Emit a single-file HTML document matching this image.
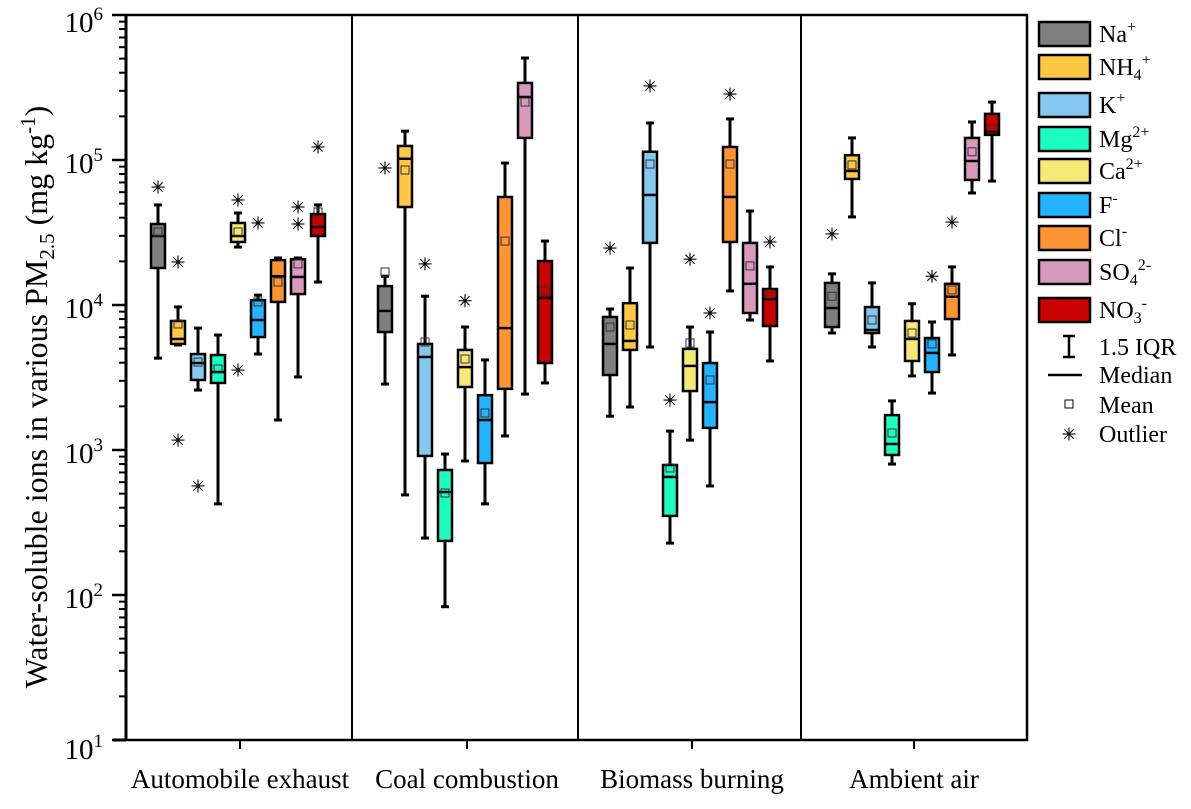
<!DOCTYPE html>
<html><head><meta charset="utf-8">
<style>
body{margin:0;background:#fff;}
svg{display:block;font-family:"Liberation Serif",serif;}
</style></head>
<body>
<svg id="chart" width="1191" height="809" viewBox="0 0 1191 809" xmlns="http://www.w3.org/2000/svg"></svg>
<script>
const groups = ["Automobile exhaust","Coal combustion","Biomass burning","Ambient air"];
const ions = ["Na","NH4","K","Mg","Ca","F","Cl","SO4","NO3"];
const colors = ["#7f7f7f","#ffc843","#84c8f0","#1affc0","#f5ea76","#22b4ff","#ff9433","#d899bd","#c80000"];
// each box: [whiskerLow, q1, median, q3, whiskerHigh, mean]
const autoBoxes = [
 [4300,18000,29900,36200,49000,31900],
 [5300,5390,5830,7760,9700,7400],
 [2590,3040,3980,4590,6930,4040],
 [425,2900,3450,4520,6210,3620],
 [25100,27200,29900,36800,43100,31900],
 [4590,6010,7880,10800,11700,10500],
 [1610,10500,15800,20400,21100,14400],
 [3190,11900,15600,20700,21100,19200],
 [14400,29900,34500,42400,49000,43800]
];
const coalBoxes = [
 [2850,6510,9100,13500,15800,16900],
 [490,47400,102000,125000,158000,85300],
 [247,910,4380,5390,11500,5560],
 [83,236,513,728,938,505],
 [840,2720,3730,4900,7050,4240],
 [425,813,1610,2390,4180,1800],
 [1250,2640,6930,55600,95300,27600],
 [2430,142000,272000,340000,505000,251000],
 [2900,3980,11200,20100,27600,12500]
];
const biomassBoxes = [
 [1710,3290,5390,8270,9380,7050],
 [1980,4900,5650,10300,18000,7280],
 [5130,26800,57400,114000,180000,93800],
 [228,351,652,788,1350,752],
 [1170,2550,3800,4980,7050,5470],
 [565,1420,2140,3980,6510,3040],
 [12500,27200,55600,123000,192000,93800],
 [7880,8810,14000,26800,44500,18600],
 [4110,7160,11000,12900,18300,11900]
];
const ambientBoxes = [
 [6410,7050,9530,14200,16400,11500],
 [40500,74000,84000,108000,142000,92500],
 [5130,6410,6730,9680,14200,7880],
 [800,924,1100,1740,2180,1310],
 [3240,4110,5830,7760,10200,6410],
 [2470,3450,4670,5920,7640,5390],
 [4520,8000,11400,14000,18300,12700],
 [59200,72800,98400,142000,183000,114000],
 [71600,149000,156000,208000,251000,164000]
];
// outliers: [groupIndex, ionIndex, value]
const outliers = [
 [0,0,65100],[0,1,19800],[0,1,1170],[0,2,565],[0,4,53000],[0,4,3560],[0,5,36800],[0,7,47400],[0,7,36200],[0,8,123000],
 [1,0,88100],[1,2,19200],[1,4,10700],
 [2,0,24700],[2,2,324000],[2,3,2210],[2,4,20700],[2,5,8810],[2,6,285000],[2,8,27200],
 [3,0,30900],[3,5,15800],[3,6,37300]
];
const yTickExps = [1,2,3,4,5,6];

const svg = document.getElementById('chart');
const NS = "http://www.w3.org/2000/svg";
const L=126, R=1027, T=15, B=740;
const groupCenters=[238,465,690,912];
function y(v){ return B - (Math.log10(v)-1)*(B-T)/5; }
function xBox(g,i){ return groupCenters[g] + (i-4)*20; }
function mk(tag, attrs, parent){
  const e=document.createElementNS(NS,tag);
  for(const k in attrs) e.setAttribute(k,attrs[k]);
  (parent||svg).appendChild(e); return e;
}
const frame = mk('rect',{x:L,y:T,width:R-L,height:B-T,fill:'none',stroke:'#000','stroke-width':2.5});


const xaxisExt = mk('line',{x1:113,y1:B,x2:L,y2:B,stroke:'#000','stroke-width':3});


mk('line',{x1:L,y1:T,x2:L,y2:B,stroke:'#000','stroke-width':3});
[352,578,801].forEach(function(sx){
  const s=mk('line',{x1:sx,y1:T,x2:sx,y2:B,stroke:'#000','stroke-width':2});
  
  
});
yTickExps.forEach(function(e){
  const yy=y(Math.pow(10,e));
  const t=mk('line',{x1:112,y1:yy,x2:L,y2:yy,stroke:'#000','stroke-width':2.5});
  
  
  const lab=mk('text',{x:103,y:yy+(e===1?19:(e===6?17:13)),'text-anchor':'end','font-size':29,fill:'#000'});
  
  
  lab.textContent='10';
  const sup=mk('tspan',{dy:-12,'font-size':19},lab); sup.textContent=String(e);
  if(e<6){
    for(let m=2;m<=9;m++){
      const my=y(m*Math.pow(10,e));
      const mt=mk('line',{x1:119,y1:my,x2:L,y2:my,stroke:'#000','stroke-width':2});
      
      
    }
  }
});
groups.forEach(function(g,gi){
  const cx=groupCenters[gi]+2;
  const t=mk('line',{x1:cx,y1:B,x2:cx,y2:B+9,stroke:'#000','stroke-width':2});
  
  
  const lab=mk('text',{x:cx,y:788,'text-anchor':'middle','font-size':27});
  
  
  lab.textContent=g;
});
const yt=mk('text',{x:0,y:0,'text-anchor':'middle','font-size':32,transform:'translate(47,397) rotate(-90)'});


yt.innerHTML='Water-soluble ions in various PM<tspan dy="7" font-size="21">2.5</tspan><tspan dy="-7"> (mg kg</tspan><tspan dy="-12" font-size="21">-1</tspan><tspan dy="12">)</tspan>';

function star(cx,cy,parent){
  const g=mk('g',{stroke:'#000','stroke-width':1.1},parent);
  const r=6.5;
  mk('line',{x1:cx-r,y1:cy,x2:cx+r,y2:cy},g);
  mk('line',{x1:cx,y1:cy-r,x2:cx,y2:cy+r},g);
  mk('line',{x1:cx-4.6,y1:cy-4.6,x2:cx+4.6,y2:cy+4.6},g);
  mk('line',{x1:cx-4.6,y1:cy+4.6,x2:cx+4.6,y2:cy-4.6},g);
  return g;
}
const allBoxes=[autoBoxes,coalBoxes,biomassBoxes,ambientBoxes];
allBoxes.forEach(function(arr,gi){
  arr.forEach(function(b,i){
    const cx=xBox(gi,i), w=14;
    const g=mk('g',{});
    
    
    mk('line',{x1:cx,y1:y(b[0]),x2:cx,y2:y(b[4]),stroke:'#000','stroke-width':3},g);
    mk('line',{x1:cx-4,y1:y(b[0]),x2:cx+4,y2:y(b[0]),stroke:'#000','stroke-width':3},g);
    mk('line',{x1:cx-4,y1:y(b[4]),x2:cx+4,y2:y(b[4]),stroke:'#000','stroke-width':3},g);
    mk('rect',{x:cx-w/2,y:y(b[3]),width:w,height:Math.max(1,y(b[1])-y(b[3])),fill:colors[i],stroke:'#000','stroke-width':2.5},g);
    mk('line',{x1:cx-w/2,y1:y(b[2]),x2:cx+w/2,y2:y(b[2]),stroke:'#000','stroke-width':2.5},g);
    mk('rect',{x:cx-4,y:y(b[5])-4,width:8,height:8,fill:'none',stroke:'#333','stroke-width':1},g);
  });
});
outliers.forEach(function(o){
  const s=star(xBox(o[0],o[1]),y(o[2]));
  
  
});
const legLabels=[['Na','','+'],['NH','4','+'],['K','','+'],['Mg','','2+'],['Ca','','2+'],['F','','-'],['Cl','','-'],['SO','4','2-'],['NO','3','-']];
const legY=[22,55,93,127,159,193,226,260,298];
legLabels.forEach(function(l,i){
  const g=mk('g',{});
  
  
  mk('rect',{x:1039,y:legY[i],width:51,height:24,fill:colors[i],stroke:'#000','stroke-width':2.5},g);
  const t=mk('text',{x:1099,y:legY[i]+20,'font-size':24},g);
  let h=l[0];
  if(l[1]) h+='<tspan dy="5" font-size="16">'+l[1]+'</tspan><tspan dy="-15" font-size="16">'+l[2]+'</tspan>';
  else h+='<tspan dy="-10" font-size="16">'+l[2]+'</tspan>';
  t.innerHTML=h;
});
const gi1=mk('g',{stroke:'#000','stroke-width':2.5});


mk('line',{x1:1069,y1:336,x2:1069,y2:357},gi1);
mk('line',{x1:1063,y1:336,x2:1075,y2:336},gi1);
mk('line',{x1:1063,y1:357,x2:1075,y2:357},gi1);
const ml=mk('line',{x1:1048,y1:375,x2:1082,y2:375,stroke:'#000','stroke-width':2.5});


const mr=mk('rect',{x:1065,y:400,width:8,height:8,fill:'none',stroke:'#000','stroke-width':1});


const os=star(1069,434);


[['1.5 IQR',355],['Median',383],['Mean',413],['Outlier',442]].forEach(function(p){
  const t=mk('text',{x:1099,y:p[1],'font-size':24});
  
  
  t.textContent=p[0];
});
</script>
</body></html>
